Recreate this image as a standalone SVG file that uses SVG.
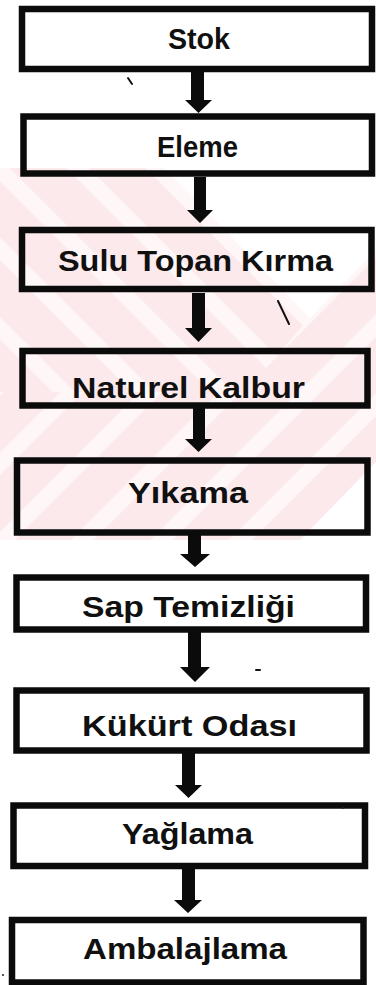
<svg xmlns="http://www.w3.org/2000/svg" width="376" height="985" viewBox="0 0 376 985">
<style>
.box{fill:none;stroke:#0b0b0b;stroke-width:6.5}
.lbl{font-family:"Liberation Sans",Arial,sans-serif;font-weight:bold;font-size:29px;fill:#101010;text-anchor:middle}
.arr{fill:#0b0b0b}
.mark{fill:none;stroke:#111;stroke-width:2;stroke-linecap:round}
</style>
<defs>
<pattern id="sBack" patternUnits="userSpaceOnUse" width="56" height="56" patternTransform="rotate(-45)">
<rect width="56" height="56" fill="#fff6f7"/><rect width="40" height="56" fill="#fce9ec"/>
</pattern>
<pattern id="sFwd" patternUnits="userSpaceOnUse" width="56" height="56" patternTransform="rotate(45)">
<rect width="56" height="56" fill="#fff6f7"/><rect width="40" height="56" fill="#fce9ec"/>
</pattern>
</defs>
<rect width="376" height="985" fill="#ffffff"/>
<g id="watermark">
<polygon points="0,168 165,168 310,318 245,392 0,392" fill="url(#sBack)"/>
<polygon points="310,318 376,250 376,462 300,540 0,540 0,392 245,392" fill="url(#sFwd)"/>
</g>
<g id="connectors">
<polygon class="arr" points="191,72 204,72 204,100 212,100 198.5,113 185,100 191,100"/>
<polygon class="arr" points="194,177 206,177 206,210 213,210 200,223 187,210 194,210"/>
<polygon class="arr" points="192,293 205,293 205,328 212,328 198.5,342 185,328 192,328"/>
<polygon class="arr" points="193,408 205,408 205,439 212,439 198.5,452 185,439 193,439"/>
<polygon class="arr" points="188,535 201,535 201,554 210,554 195,567 180,554 188,554"/>
<polygon class="arr" points="188,632 201,632 201,667 210,667 195,682 180,667 188,667"/>
<polygon class="arr" points="182,753 195,753 195,785 202,785 188.5,798 175,785 182,785"/>
<polygon class="arr" points="182,869 195,869 195,900 202,900 188,913 174,900 182,900"/>
</g>
<g id="n1"><rect class="box" x="22" y="9" width="350" height="60"/><text class="lbl" x="199" y="49" textLength="62" lengthAdjust="spacingAndGlyphs">Stok</text></g>
<g id="n2"><rect class="box" x="23.5" y="116.5" width="348.5" height="57"/><text class="lbl" x="197.5" y="157" textLength="81" lengthAdjust="spacingAndGlyphs">Eleme</text></g>
<g id="n3"><rect class="box" x="22" y="230" width="349.5" height="59"/><text class="lbl" x="195.5" y="271" textLength="275" lengthAdjust="spacingAndGlyphs">Sulu Topan Kırma</text></g>
<g id="n4"><rect class="box" x="22.5" y="351" width="345" height="54.5"/><text class="lbl" x="188.5" y="398" textLength="233" lengthAdjust="spacingAndGlyphs">Naturel Kalbur</text></g>
<g id="n5"><rect class="box" x="17" y="460.5" width="350.5" height="72"/><text class="lbl" x="188" y="503" textLength="120" lengthAdjust="spacingAndGlyphs">Yıkama</text></g>
<g id="n6"><rect class="box" x="16.5" y="577.5" width="349.5" height="52"/><text class="lbl" x="188.5" y="617" textLength="213" lengthAdjust="spacingAndGlyphs">Sap Temizliği</text></g>
<g id="n7"><rect class="box" x="16.5" y="690.5" width="350" height="60"/><text class="lbl" x="189.5" y="736" textLength="215" lengthAdjust="spacingAndGlyphs">Kükürt Odası</text></g>
<g id="n8"><rect class="box" x="13.5" y="805.5" width="351.5" height="60.5"/><text class="lbl" x="187.5" y="844" textLength="131" lengthAdjust="spacingAndGlyphs">Yağlama</text></g>
<g id="n9"><rect class="box" x="12" y="920" width="351.5" height="62.5"/><text class="lbl" x="185" y="959" textLength="204" lengthAdjust="spacingAndGlyphs">Ambalajlama</text></g>
<g id="marks">
<path class="mark" d="M128,78 L132,84"/>
<path class="mark" d="M278,301 L289,324"/>
<path class="mark" d="M256,670 L260,670"/>
<circle cx="343" cy="808" r="1" fill="#222"/>
<circle cx="3" cy="975" r="1" fill="#222"/>
</g>
</svg>
